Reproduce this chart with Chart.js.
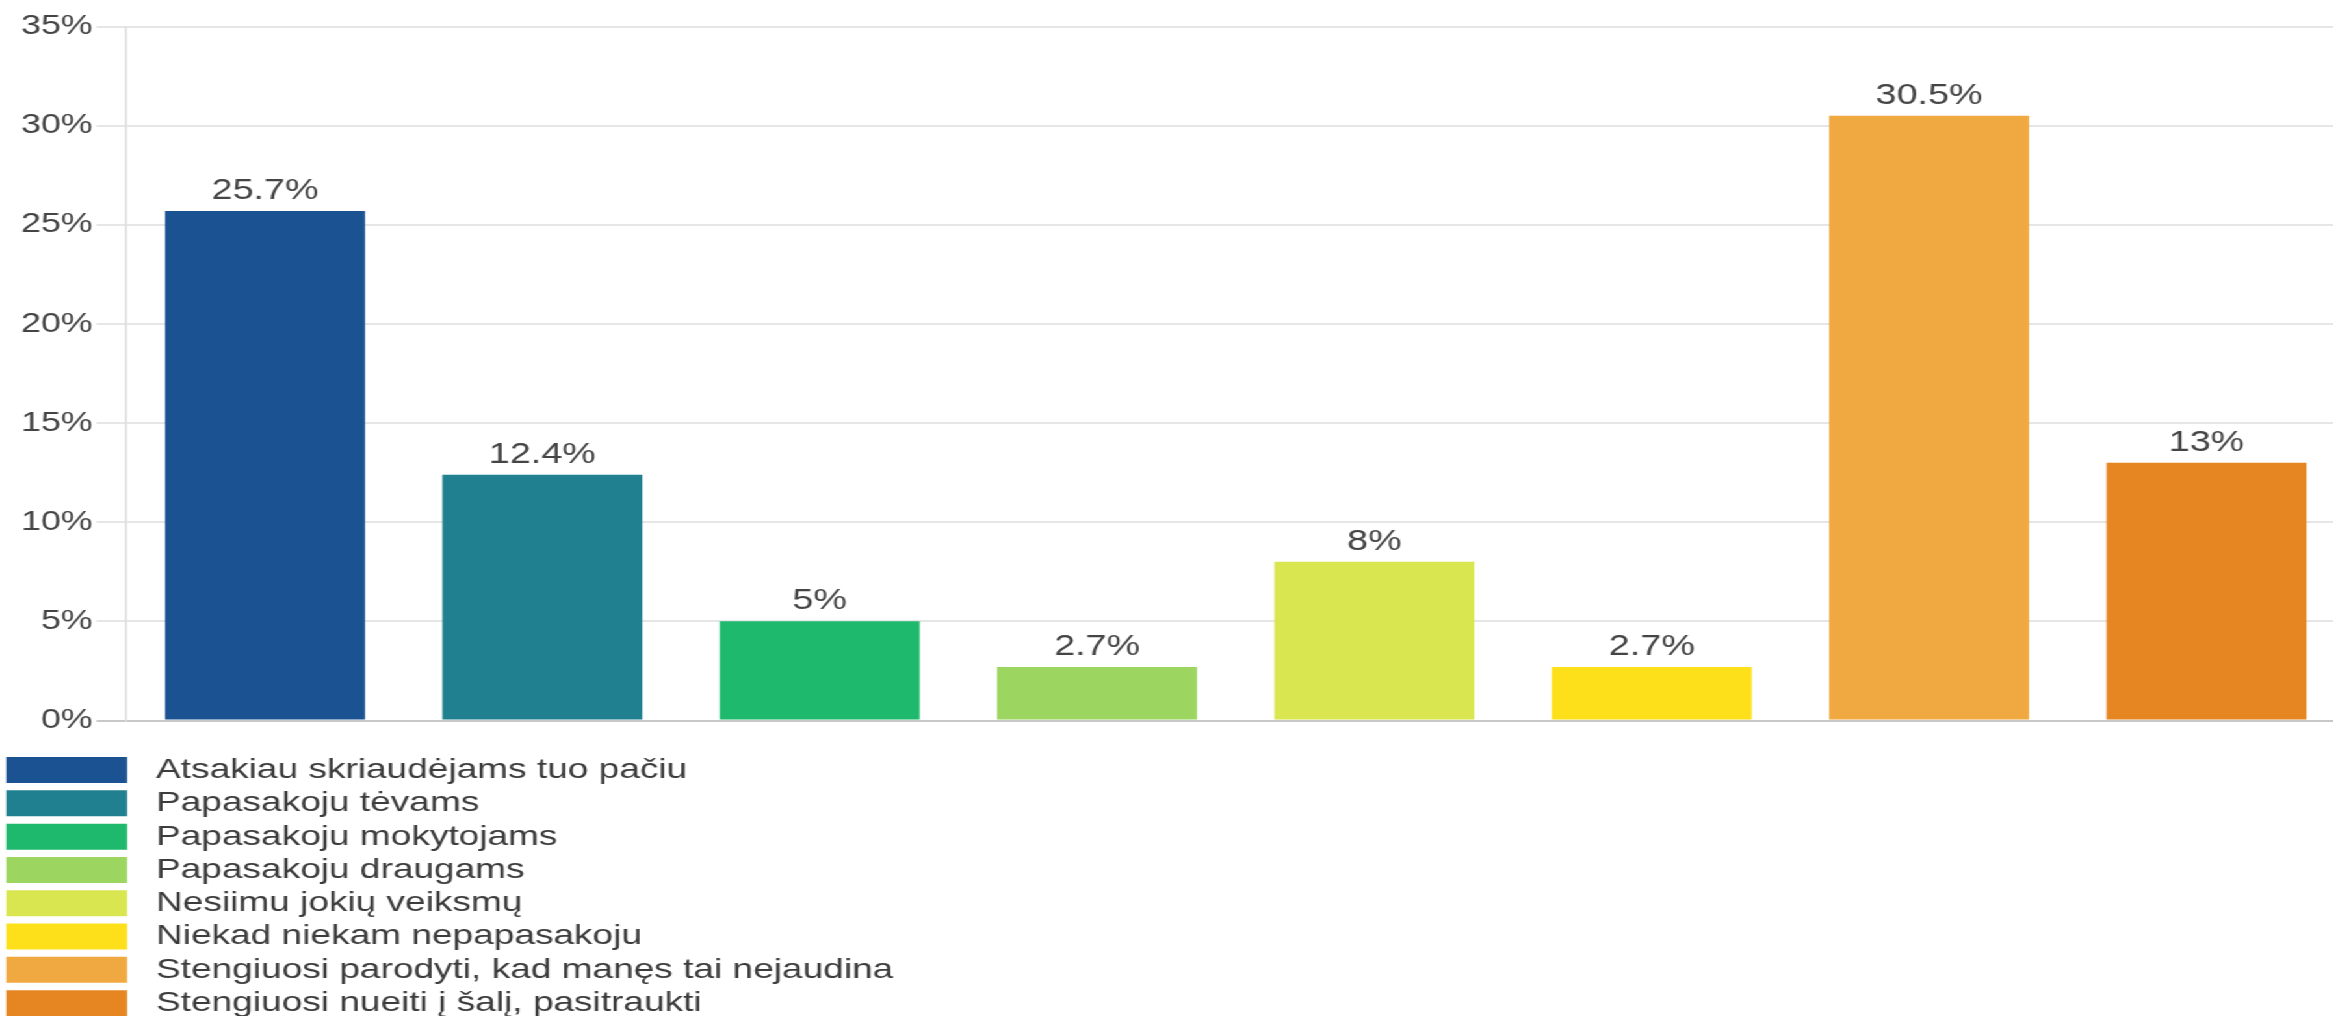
<!DOCTYPE html>
<html>
<head>
<meta charset="utf-8">
<script src="https://cdn.jsdelivr.net/npm/chart.js@4.4.1/dist/chart.umd.min.js"></script>
<style>
html, body { margin: 0; padding: 0; background: #ffffff; overflow: hidden; width: 2333px; height: 1016px; }
#wrap { position: absolute; left: 0; top: 0; width: 1804px; height: 1016px; transform: scaleX(1.3); transform-origin: 0 0; }
#main { position: absolute; left: 0; top: 0; }
#leg { position: absolute; left: 0; top: 751px; }
</style>
</head>
<body>
<div id="wrap">
  <canvas id="main" width="1804" height="740"></canvas>
  <canvas id="leg" width="1804" height="300"></canvas>
</div>
<script>
const categories = [
  'Atsakiau skriaudėjams tuo pačiu',
  'Papasakoju tėvams',
  'Papasakoju mokytojams',
  'Papasakoju draugams',
  'Nesiimu jokių veiksmų',
  'Niekad niekam nepapasakoju',
  'Stengiuosi parodyti, kad manęs tai nejaudina',
  'Stengiuosi nueiti į šalį, pasitraukti'
];
const values = [25.7, 12.4, 5, 2.7, 8, 2.7, 30.5, 13];
const colors = ['#1b5291', '#21808f', '#1eb96c', '#9cd661', '#d9e650', '#fde01a', '#f0a940', '#e58622'];
const yTickValues = [0, 5, 10, 15, 20, 25, 30, 35];
const yTickLabels = ['0%', '5%', '10%', '15%', '20%', '25%', '30%', '35%'];

const FONT = '"Liberation Sans", Arial, Helvetica, sans-serif';
const TEXT = '#444444';

const valueLabels = {
  id: 'valueLabels',
  afterDatasetsDraw(chart) {
    const ctx = chart.ctx;
    const meta = chart.getDatasetMeta(0);
    ctx.save();
    ctx.font = '29px ' + FONT;
    ctx.fillStyle = TEXT;
    ctx.textAlign = 'center';
    ctx.textBaseline = 'alphabetic';
    meta.data.forEach((bar, i) => {
      ctx.fillText(values[i] + '%', bar.x, bar.y - 12);
    });
    ctx.restore();
  }
};

new Chart(document.getElementById('main'), {
  type: 'bar',
  data: {
    labels: categories,
    datasets: [{
      data: values,
      backgroundColor: colors,
      borderWidth: 0,
      barPercentage: 0.721,
      categoryPercentage: 1
    }]
  },
  options: {
    responsive: false,
    animation: false,
    devicePixelRatio: 1,
    layout: { padding: { top: 26.5, bottom: 19, left: 0, right: 0 } },
    plugins: { legend: { display: false }, tooltip: { enabled: false } },
    scales: {
      x: {
        grid: { display: false, drawTicks: false },
        ticks: { display: false },
        border: { display: true, color: '#c8c8c8', width: 2 }
      },
      y: {
        min: 0,
        max: 35,
        afterFit(axis) { axis.width = 97.2; },
        afterBuildTicks(axis) { axis.ticks = yTickValues.map(v => ({ value: v })); },
        ticks: {
          callback: (v) => yTickLabels[yTickValues.indexOf(v)],
          padding: 3,
          color: TEXT,
          font: { family: FONT, size: 27.5 }
        },
        grid: {
          color: (c) => (c.tick && c.tick.value === 0) ? '#c8c8c8' : '#e6e6e6',
          lineWidth: 2,
          tickLength: 23
        },
        border: { color: '#dcdcdc', width: 1.5 }
      }
    }
  },
  plugins: [valueLabels]
});

new Chart(document.getElementById('leg'), {
  type: 'bar',
  data: {
    labels: categories,
    datasets: [{ data: values, backgroundColor: colors, hidden: true }]
  },
  options: {
    responsive: false,
    animation: false,
    devicePixelRatio: 1,
    layout: { padding: 0 },
    scales: { x: { display: false }, y: { display: false } },
    plugins: {
      tooltip: { enabled: false },
      legend: {
        position: 'left',
        align: 'start',
        onClick: null,
        labels: {
          boxWidth: 93,
          boxHeight: 26,
          padding: 4.8,
          color: '#3c3c3c',
          font: { family: FONT, size: 28.5 },
          generateLabels: () => categories.map((c, i) => ({
            text: ' ' + c,
            fillStyle: colors[i],
            strokeStyle: colors[i],
            lineWidth: 0,
            hidden: false,
            index: i,
            fontColor: '#3c3c3c'
          }))
        }
      }
    }
  }
});
</script>
</body>
</html>
